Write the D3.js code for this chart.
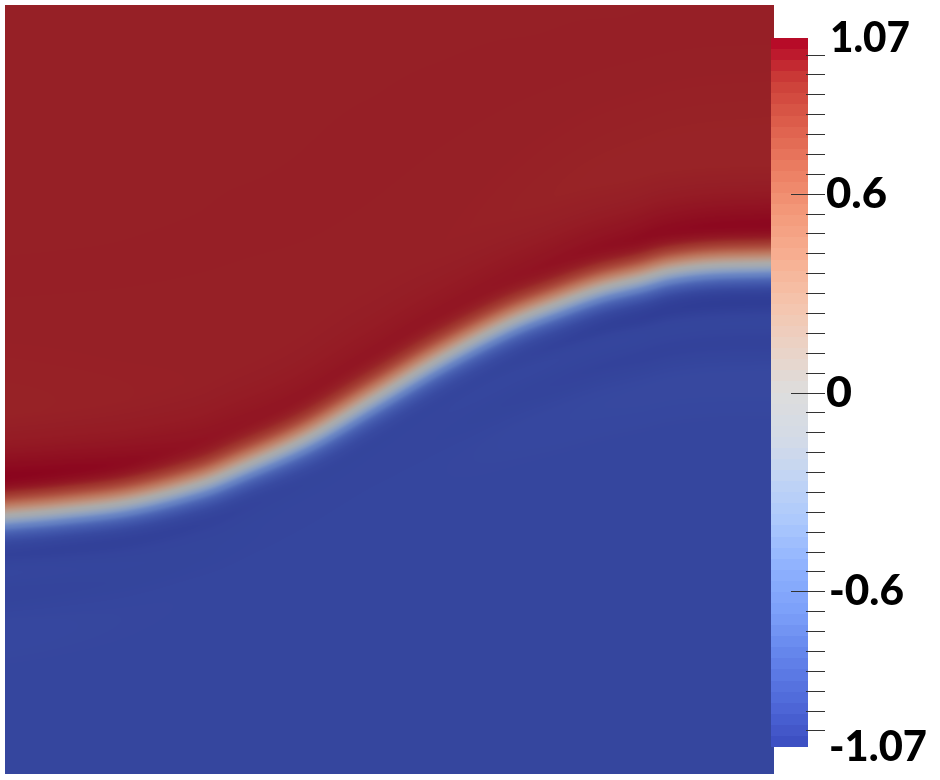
<!DOCTYPE html>
<html><head><meta charset="utf-8">
<style>html,body{margin:0;padding:0;background:#fff}#c{position:absolute;left:5px;top:5px}svg{position:absolute;left:0;top:0}</style>
<script src="https://cdn.jsdelivr.net/npm/d3@7"></script></head>
<body><canvas id="c" width="769" height="769"></canvas><svg id="s" width="940" height="780"></svg>
<script>
// colour map (fraction of range -> rgb)
const mapStops=[0,.0625,.125,.1875,.25,.3125,.375,.4375,.5,.5625,.625,.6875,.75,.8125,.875,.9375,1];
const mapColors=["#3b4cc0","#4f69d9","#6282ea","#7b9ff9","#8db0fe","#aac7fd","#c0d4f5","#d4dbe6","#dddddd","#ebd3c6","#f5c4ad","#f7b093","#f49a7b","#ec7f63","#de604d","#cc3f38","#b40426"];
// interface line
const curveX=[5,60,130,200,240,307,373,440,507,560,600,640,670,710,770];
const curveY=[515,510,501,483,467,437,398,358,323,302,288,278,270,265,263];
// profile across the interface
const baseD=[-500,-45,-32,-24,-17,-11,-5,0,5,11,17,24,32,45,500];
const baseV=[.985,.985,.97,.92,.78,.55,.26,0,-.26,-.55,-.78,-.92,-.98,-1.0,-1.0];
const bumpD=[-100,-70,-50,-38,-28,-18,0,18,28,38,48,65,90];
const bumpV=[0,.25,.7,1,.8,.3,0,-.3,-.8,-1,-.7,-.25,0];
const ampX=[5,100,200,300,400,500,600,700,775];
const ampRed=[.085,.07,.04,.032,.032,.035,.05,.07,.075];
const ampBlue=[.03,.035,.03,.015,.012,.015,.04,.06,.06];
const rippleD=[-220,-150,-110,-80,-60,40,55,80,110,170];
const rippleV=[0,-.008,-.012,-.006,0,0,.02,-.02,.01,0];
const rippleX=[5,200,400,600,775];
const rippleA=[.6,.2,.1,.8,1];
const tickValuesMajor=[-0.6,0,0.6];
const tickValuesMinor=[-1.02,-.96,-.9,-.84,-.78,-.72,-.66,-.54,-.48,-.42,-.36,-.3,-.24,-.18,-.12,-.06,.06,.12,.18,.24,.3,.36,.42,.48,.54,.66,.72,.78,.84,.9,.96,1.02];
const labels=["1.07","0.6","0","-0.6","-1.07"];
const labelX=[830,826,826,829,829], labelY=[52,208,407,605,761], labelW=[80,61,26,75,98];
const vMin=-1.07,vMax=1.07;

function smooth(xs,ys){
  const n=xs.length, m=ys.map((y,i)=>{const a=Math.max(i-1,0),b=Math.min(i+1,n-1);return (ys[b]-ys[a])/(xs[b]-xs[a]);});
  return x=>{
    if(x<=xs[0])return ys[0]; if(x>=xs[n-1])return ys[n-1];
    const i=d3.bisectRight(xs,x)-1,h=xs[i+1]-xs[i],t=(x-xs[i])/h,t2=t*t,t3=t2*t;
    return (2*t3-3*t2+1)*ys[i]+(t3-2*t2+t)*h*m[i]+(-2*t3+3*t2)*ys[i+1]+(t3-t2)*h*m[i+1];
  };
}
const frac=d3.scaleLinear().domain([vMin,vMax]).range([0,1]).clamp(true);
const colorOf=d3.scaleLinear().domain(mapStops).range(mapColors);
const shade=0.77;
const lut=d3.range(2049).map(i=>{const c=d3.rgb(colorOf(i/2048));return [c.r*shade,c.g*shade,c.b*shade];});
const f=smooth(curveX,curveY), base=smooth(baseD,baseV), bump=smooth(bumpD,bumpV),
      aR=smooth(ampX,ampRed), aB=smooth(ampX,ampBlue), rip=smooth(rippleD,rippleV), rA=smooth(rippleX,rippleA);
const ctx=document.getElementById('c').getContext('2d');
const img=ctx.createImageData(769,769);
for(let px=0;px<769;px++){
  const x=px+5.5,yc=f(x),sl=(f(x+10)-f(x-10))/20,k=1/Math.sqrt(1+sl*sl),ar=aR(x),ab=aB(x),ra=rA(x);
  for(let py=0;py<769;py++){
    const y=py+5.5,d=y-yc,dp=d*k;
    const v=base(dp)+(d<0?ar:ab)*bump(dp)+ra*rip(d);
    const c=lut[Math.round(frac(v)*2048)],o=(py*769+px)*4;
    img.data[o]=c[0];img.data[o+1]=c[1];img.data[o+2]=c[2];img.data[o+3]=255;
  }
}
ctx.putImageData(img,0,0);

const svg=d3.select('#s');
const barY=d3.scaleLinear().domain([vMax,vMin]).range([38,747]);
const barYr=barY.copy().rangeRound([38,747]);
const nBands=64;
const bands=d3.range(nBands);
const bandV=d3.scaleLinear().domain([0,nBands]).range([vMax,vMin]);
svg.append('g').selectAll('rect').data(bands).join('rect')
  .attr('x',771).attr('width',37)
  .attr('y',d=>barYr(bandV(d))).attr('height',d=>barYr(bandV(d+1))-barYr(bandV(d)))
  .attr('fill',d=>colorOf(frac(bandV(d+.5))));
for(const [vals,size] of [[tickValuesMinor,19],[tickValuesMajor,34]]){
  const g=svg.append('g').attr('transform','translate(825,0)')
    .call(d3.axisLeft(barYr).tickValues(vals).tickSize(size).tickFormat(''));
  g.select('.domain').remove();
  g.selectAll('line').attr('stroke','#333').attr('stroke-width',1);
}
svg.append('g').selectAll('text').data(labels).join('text')
  .attr('x',(d,i)=>labelX[i]).attr('y',(d,i)=>labelY[i])
  .attr('textLength',(d,i)=>labelW[i]).attr('lengthAdjust','spacingAndGlyphs')
  .attr('font-family','Lato').attr('font-weight',900).attr('font-size',42).attr('fill','#000')
  .text(d=>d);
</script></body></html>
